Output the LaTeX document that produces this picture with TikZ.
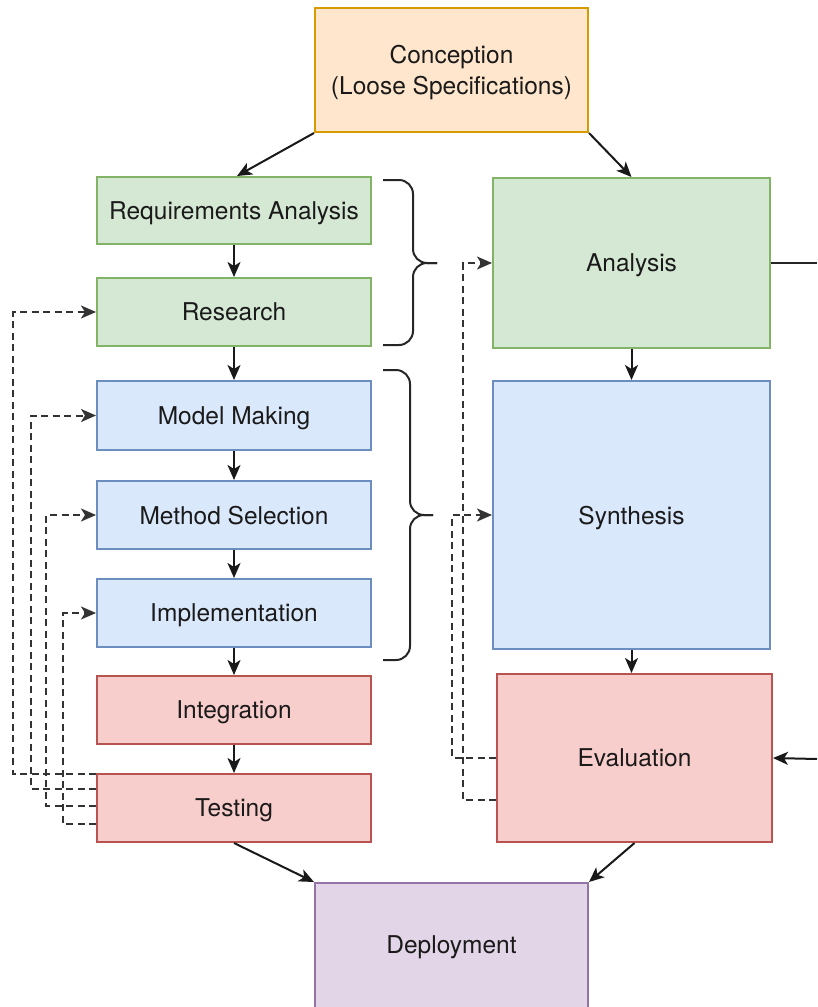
\documentclass[tikz,border=0pt]{standalone}
\usepackage{fontspec}
\setmainfont{TeX Gyre Heros}
\usetikzlibrary{arrows.meta}
\definecolor{orF}{HTML}{FFE6CC}\definecolor{orD}{HTML}{D79B00}
\definecolor{grF}{HTML}{D5E8D4}\definecolor{grD}{HTML}{82B366}
\definecolor{blF}{HTML}{DAE8FC}\definecolor{blD}{HTML}{6C8EBF}
\definecolor{rdF}{HTML}{F8CECC}\definecolor{rdD}{HTML}{B85450}
\definecolor{puF}{HTML}{E1D5E7}\definecolor{puD}{HTML}{9673A6}
\definecolor{txt}{HTML}{1A1A1A}
\begin{document}
\begin{tikzpicture}[x=1pt,y=-1pt,
  box/.style={draw, line width=2pt, inner sep=0pt, align=center, text=txt,
    text depth=0pt, font=\fontsize{24.5}{31}\selectfont},
  sz/.style 2 args={minimum width=#1pt, minimum height=#2pt},
  orb/.style={box, fill=orF, draw=orD},
  grb/.style={box, fill=grF, draw=grD},
  blb/.style={box, fill=blF, draw=blD},
  rdb/.style={box, fill=rdF, draw=rdD},
  pub/.style={box, fill=puF, draw=puD},
  arr/.style={-{Stealth[length=15pt,width=13pt,inset=4pt]}, line width=2pt, draw=black!90},
  plain/.style={line width=2pt, draw=black!85},
  fb/.style={arr, dash pattern=on 7pt off 4.5pt, draw=black!80},
  brc/.style={line width=2pt, rounded corners=14pt, draw=black!85}]
\useasboundingbox (0,0) rectangle (817,1007);
\begin{scope}
\clip (0,0) rectangle (817,1007);
\node[orb, sz={273}{124}] (conc) at (451.5,70) {Conception\\(Loose Specifications)};
\node[grb, sz={274}{67}] (req) at (234,210.5) {Requirements Analysis};
\node[grb, sz={274}{68}] (res) at (234,312) {Research};
\node[blb, sz={274}{69}] (mm) at (234,415.5) {Model Making};
\node[blb, sz={274}{68}] (ms) at (234,515) {Method Selection};
\node[blb, sz={274}{68}] (imp) at (234,613) {Implementation};
\node[rdb, sz={274}{68}] (int) at (234,710) {Integration};
\node[rdb, sz={274}{68}] (test) at (234,808) {Testing};
\node[grb, sz={277}{170}] (ana) at (631.5,263) {Analysis};
\node[blb, sz={277}{268}] (syn) at (631.5,515) {Synthesis};
\node[rdb, sz={275}{168}] (eval) at (634.5,758) {Evaluation};
\node[pub, sz={273}{134}] (dep) at (451.5,950) {};
\node[text=txt, text depth=0pt, font=\fontsize{24.5}{31}\selectfont] (deplbl) at (451.5,945) {Deployment};

\coordinate (anaout) at (817,263);
\coordinate (evalin) at (817,759);

% main arrows
\draw[arr] (conc.south west) -- ([xshift=3pt]req.north);
\draw[arr] (conc.south east) -- (ana.north);
\draw[arr] (req) -- (res);
\draw[arr] (res) -- (mm);
\draw[arr] (mm) -- (ms);
\draw[arr] (ms) -- (imp);
\draw[arr] (imp) -- (int);
\draw[arr] (int) -- (test);
\draw[arr] (ana) -- (syn);
\draw[arr] (syn.south) -- (syn.south |- eval.north);
\draw[arr] (test.south) -- (dep.north west);
\draw[arr] (eval.south) -- (dep.north east);
\draw[plain] (ana.east) -- (anaout);
\draw[arr] (evalin) -- (eval.east);

% left feedback loops
\draw[fb] ([yshift=-1pt]test.north west) -- ++(-83,0) |- (res.west);
\draw[fb] ([yshift=-16pt]test.north west) -- ++(-65,0) |- (mm.west);
\draw[fb] ([yshift=-33pt]test.north west) -- ++(-50,0) |- (ms.west);
\draw[fb] ([yshift=-51pt]test.north west) -- ++(-33,0) |- (imp.west);

% right feedback loops
\draw[fb] (eval.west) -- ++(-44,0) |- (syn.west);
\draw[fb] ([yshift=-42pt]eval.west) -- ++(-33,0) |- (ana.west);

% braces
\draw[brc] (383,180) -- (413,180) -- (413,263) -- (437,263);
\draw[brc] (437,263) -- (413,263) -- (413,345) -- (383,345);
\draw[brc] (383,370) -- (410,370) -- (410,515) -- (433,515);
\draw[brc] (433,515) -- (410,515) -- (410,660) -- (383,660);
\end{scope}
\end{tikzpicture}
\end{document}
